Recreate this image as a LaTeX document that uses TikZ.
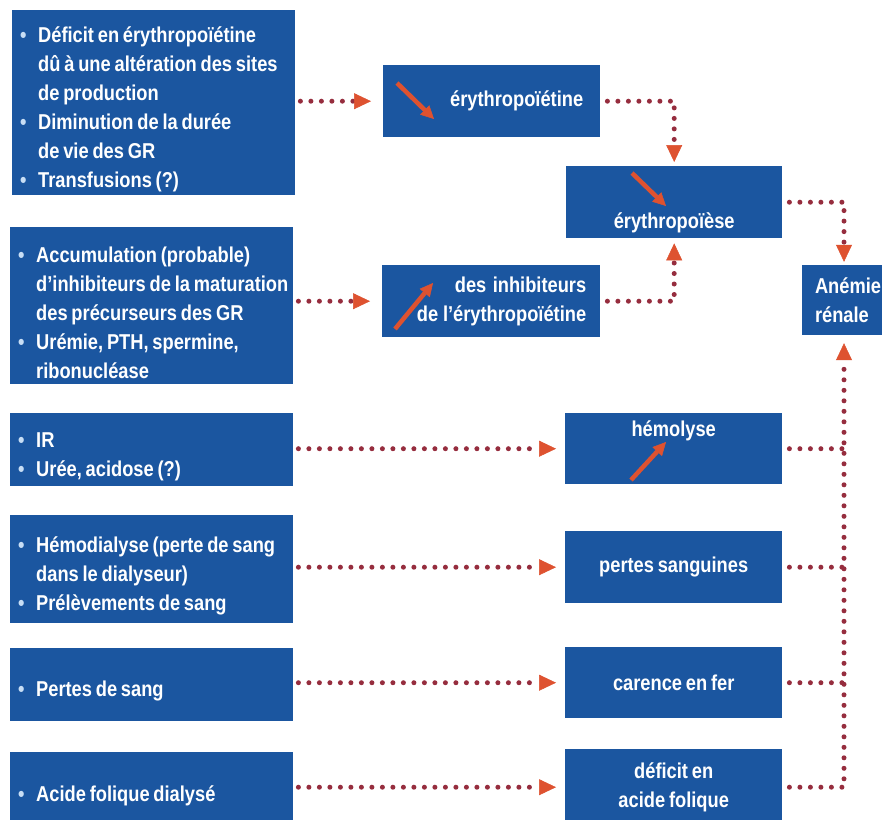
\documentclass[tikz,border=0pt]{standalone}
\usepackage{fontspec}
\setmainfont{Liberation Sans}[FakeStretch=0.85, WordSpace=0.75]
\usetikzlibrary{arrows.meta}

\definecolor{boxblue}{RGB}{27,86,160}
\definecolor{dotred}{RGB}{150,45,62}
\definecolor{tipred}{RGB}{222,82,48}
\definecolor{bulletblue}{RGB}{200,222,245}

% one bulleted item with a hanging indent (lines broken with \newline)
\newcommand{\bitem}[1]{\par\noindent\hangindent=26pt\hangafter=1%
  \makebox[26pt][l]{\hspace{8pt}\textcolor{bulletblue}{\textbullet}}#1}

\tikzset{
  box/.style={fill=boxblue, text=white, inner sep=0pt,
    font=\bfseries\fontsize{21.5}{29}\selectfont,
    execute at begin node={\spaceskip=0pt\xspaceskip=0pt}},
  causebox/.style={box, anchor=north west, minimum width=283pt,
    text width=283pt},
  effectbox/.style={box, anchor=north west, minimum width=217pt,
    minimum height=72pt, align=center},
  conn/.style={draw=dotred, line width=5pt, line cap=round,
    dash pattern=on 0pt off 10.5pt,
    -{Triangle[length=17pt, width=16pt, color=tipred, line width=0.5pt]}},
  dotline/.style={draw=dotred, line width=5pt, line cap=round,
    dash pattern=on 0pt off 10.5pt},
  trend/.style={draw=tipred, line width=4.5pt,
    -{Triangle[length=13pt, width=13pt, line width=0.5pt]}},
}

\begin{document}
\begin{tikzpicture}[x=1pt, y=-1pt]
\useasboundingbox (0,0) rectangle (882,819);
\fill[white] (0,0) rectangle (882,819);
\clip (0,0) rectangle (882,819);

% causes (left column)
\node[causebox, minimum height=185pt] (b1) at (12,10) {\raggedright
  \bitem{Déficit en érythropoïétine\newline dû à une altération des sites\newline de production}
  \bitem{Diminution de la durée\newline de vie des GR}
  \bitem{Transfusions (?)}\par};
\node[causebox, minimum height=157pt] (b2) at (10,227) {\raggedright
  \bitem{Accumulation (probable)\newline d'inhibiteurs de la maturation\newline des précurseurs des GR}
  \bitem{Urémie, PTH, spermine,\newline ribonucléase}\par};
\node[causebox, minimum height=73pt] (b3) at (10,413) {\raggedright
  \bitem{IR}
  \bitem{Urée, acidose (?)}\par};
\node[causebox, minimum height=108pt] (b4) at (10,515) {\raggedright
  \bitem{Hémodialyse (perte de sang\newline dans le dialyseur)}
  \bitem{Prélèvements de sang}\par};
\node[causebox, minimum height=73pt] (b5) at (10,648) {\raggedright
  \bitem{Pertes de sang}\par};
\node[causebox, minimum height=75pt] (b6) at (10,752) {\raggedright
  \bitem{Acide folique dialysé}\par};

% mechanisms
\node[effectbox, align=right, text width=183pt] (epo) at (383,65) {érythropoïétine};
\node[effectbox, minimum width=216pt, text height=52pt, text depth=0pt] (ery) at (566,166) {érythropoïèse};
\node[effectbox, minimum width=218pt, align=right, text width=190pt] (inh) at (382,265)
  {des~inhibiteurs\\ de l'érythropoïétine};
\node[effectbox, minimum height=71pt, text height=0pt, text depth=24pt] (hem) at (565,413) {hémolyse};
\node[effectbox] (pertes) at (565,531) {pertes sanguines};
\node[effectbox, minimum height=71pt] (carence) at (565,647) {carence en fer};
\node[effectbox, minimum height=76pt] (def) at (565,749) {déficit en\\ acide folique};

% outcome (runs past the right edge)
\node[box, minimum width=84pt, minimum height=70pt, text width=58pt, align=left]
  (anemie) at (844,300) {Anémie\\ rénale};

% increase / decrease marks inside the boxes
\draw[trend] (397,83) -- (434,119);
\draw[trend] (632,173) -- (666,206);
\draw[trend] (395,329) -- (433,283);
\draw[trend] (631,480) -- (666,442);

% causes to mechanisms
\draw[conn, shorten <=5pt, shorten >=12pt] (b1.east |- epo.west) -- (epo.west);
\draw[conn, shorten <=5pt, shorten >=12pt] (b2.east |- inh.west) -- (inh.west);
\draw[conn, shorten <=5pt, shorten >=9pt] (b3.east |- hem.west) -- (hem.west);
\draw[conn, shorten <=5pt, shorten >=9pt] (b4.east |- pertes.west) -- (pertes.west);
\draw[conn, shorten <=5pt, shorten >=9pt] (b5.east |- carence.west) -- (carence.west);
\draw[conn, shorten <=5pt, shorten >=9pt] (b6.east |- def.west) -- (def.west);

% erythropoiesis inputs
\draw[conn, shorten <=7pt, shorten >=4pt] (epo.east) -| (ery.north);
\draw[conn, shorten <=7pt, shorten >=5pt] (inh.east) -| (ery.south);

% mechanisms to renal anaemia
\draw[conn, shorten <=7pt, shorten >=3pt] (ery.east) -| (anemie.north);
\draw[conn, shorten <=7pt, shorten >=8pt] (def.east) -| (anemie.south);
\draw[dotline, shorten <=7pt] (hem.east) -- (hem.east -| anemie.south);
\draw[dotline, shorten <=7pt] (pertes.east) -- (pertes.east -| anemie.south);
\draw[dotline, shorten <=7pt] (carence.east) -- (carence.east -| anemie.south);
\end{tikzpicture}
\end{document}
